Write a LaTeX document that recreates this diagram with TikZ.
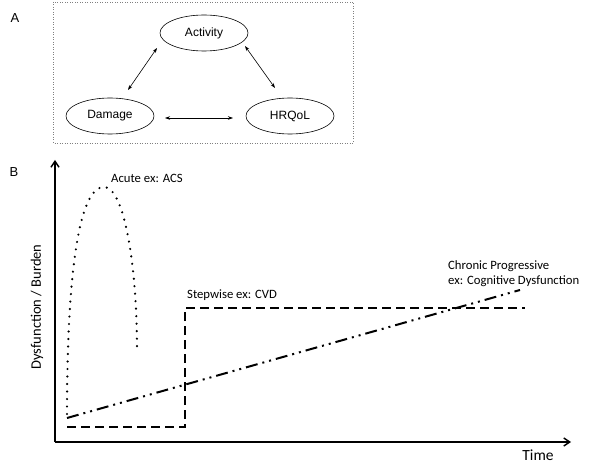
\documentclass[tikz,border=0pt]{standalone}
\usepackage{fontspec}
\setmainfont{Carlito}
\newfontfamily\arialf{Liberation Sans}
\usetikzlibrary{arrows.meta,shapes.geometric}
\begin{document}
\begin{tikzpicture}[x=1pt,y=-1pt,
  ell/.style={draw,ellipse,minimum width=88pt,minimum height=36pt,inner sep=0pt,font=\arialf\fontsize{12}{14}\selectfont,line width=0.6pt},
  rel/.style={{Stealth[length=5pt,width=3.5pt]}-{Stealth[length=5pt,width=3.5pt]},line width=0.6pt},
  axis/.style={line width=1.6pt,-{Straight Barb[length=6pt,width=8pt,line width=1.4pt]}},
  acute/.style={line width=2.4pt,line cap=round,dash pattern=on 0pt off 7.5pt},
  stepw/.style={line width=2.2pt,dash pattern=on 9pt off 5pt},
  chron/.style={line width=2pt,dash pattern=on 12pt off 5pt on 2pt off 5pt on 2pt off 5pt},
  lbl/.style={font=\fontsize{12.7}{15}\selectfont,inner sep=0pt,anchor=west},
  panel/.style={font=\arialf\fontsize{13}{15}\selectfont,inner sep=0pt}]
\useasboundingbox (0,0) rectangle (608,473);
\fill[white] (0,0) rectangle (608,473);
% panel A
\node[panel] (la) at (15,18) {A};
\draw[gray,line width=0.5pt,dotted] (53,2) rectangle (353,143);
\node[ell] (act) at (204,33) {Activity};
\node[ell] (dam) at (110,116) {Damage};
\node[ell] (hrq) at (290,116) {HRQoL};
\coordinate (a1) at (128,90); \coordinate (a2) at (157,48);
\coordinate (b1) at (245,46); \coordinate (b2) at (275,88);
\coordinate (c1) at (165,118); \coordinate (c2) at (233,118);
\draw[rel] (a1) -- (a2);
\draw[rel] (b1) -- (b2);
\draw[rel] (c1) -- (c2);
% panel B
\node[panel] (lb) at (14,172) {B};
\coordinate (orig) at (55,442);
\coordinate (ytop) at (55,160);
\coordinate (xend) at (571,442);
\draw[axis] (orig) -- (ytop);
\draw[axis] (orig) -- (xend);
\node[font=\fontsize{15.5}{17}\selectfont,inner sep=0pt] (tl) at (538,455) {Time};
\node[font=\fontsize{14.5}{17}\selectfont,inner sep=0pt,rotate=90] (yl) at (37,307) {Dysfunction / Burden};
% acute
\coordinate (ac0) at (67,414);
\coordinate (acp) at (103,187);
\coordinate (ac1) at (137,349);
\draw[acute] (ac0) .. controls (67,300) and (75,190) .. (acp) .. controls (125,185) and (137,270) .. (ac1);
\node[lbl] (acl) at (111,178) {Acute ex: ACS};
% stepwise
\coordinate (s0) at (67,427);
\coordinate (s1) at (185,427);
\coordinate (s2) at (185,308);
\coordinate (s3) at (525,308);
\draw[stepw] (s0) -- (s1) -- (s2) -- (s3);
\node[lbl] (sl) at (187,295) {Stepwise ex: CVD};
% chronic
\coordinate (c0) at (67,418);
\coordinate (cE) at (520,290);
\draw[chron] (c0) -- (cE);
\node[lbl,align=left] (cl) at (448,273.5) {Chronic Progressive\\ex: Cognitive Dysfunction};
\end{tikzpicture}
\end{document}
